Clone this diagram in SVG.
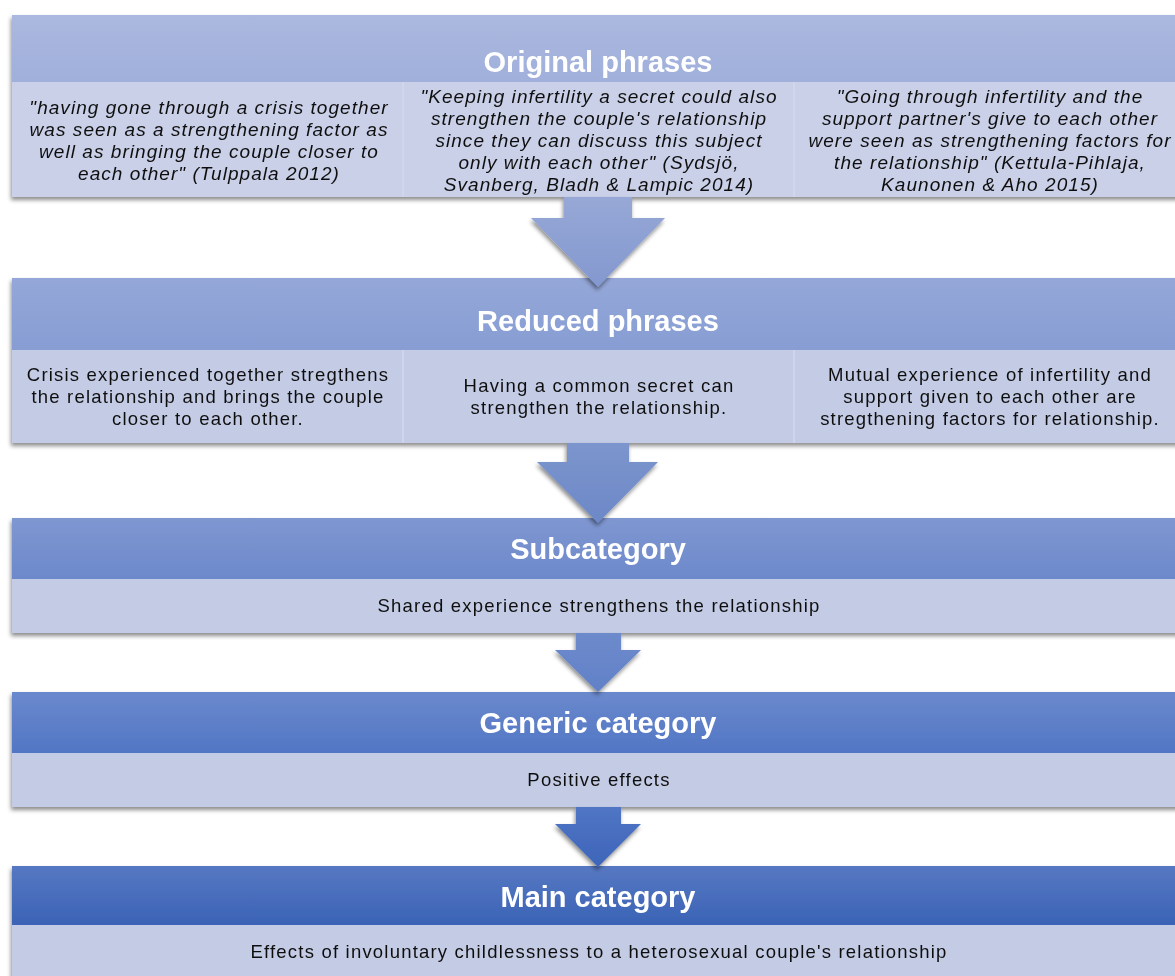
<svg xmlns="http://www.w3.org/2000/svg" width="1175" height="976" viewBox="0 0 1175 976">
<style>
.hd{font-family:"Liberation Sans",Arial,sans-serif;font-weight:bold;font-size:29px;fill:#FFFFFF;text-anchor:middle}
.q{font-family:"Liberation Sans",Arial,sans-serif;font-style:italic;font-size:19px;letter-spacing:1.05px;fill:#111111;text-anchor:middle}
.t{font-family:"Liberation Sans",Arial,sans-serif;font-size:18.5px;letter-spacing:1.2px;fill:#111111;text-anchor:middle}
.body1{fill:#C9D0E8}
.body{fill:#C3CBE5}
.div{stroke:#D3D9EE;stroke-width:1.5}
</style>
<defs>
<filter id="sh" x="-5%" y="-20%" width="110%" height="140%">
<feDropShadow dx="-1" dy="3" stdDeviation="2" flood-color="#000" flood-opacity="0.45"/>
</filter>
<linearGradient id="h1" x1="0" y1="0" x2="0" y2="1"><stop offset="0" stop-color="#ABB8DF"/><stop offset="1" stop-color="#A0B0DB"/></linearGradient>
<linearGradient id="h2" x1="0" y1="0" x2="0" y2="1"><stop offset="0" stop-color="#94A7D8"/><stop offset="1" stop-color="#879DD3"/></linearGradient>
<linearGradient id="h3" x1="0" y1="0" x2="0" y2="1"><stop offset="0" stop-color="#7F97D1"/><stop offset="1" stop-color="#6D89CB"/></linearGradient>
<linearGradient id="h4" x1="0" y1="0" x2="0" y2="1"><stop offset="0" stop-color="#6B89CD"/><stop offset="1" stop-color="#5176C4"/></linearGradient>
<linearGradient id="h5" x1="0" y1="0" x2="0" y2="1"><stop offset="0" stop-color="#5678C2"/><stop offset="1" stop-color="#3B63B6"/></linearGradient>
<linearGradient id="a1" x1="0" y1="0" x2="0" y2="1"><stop offset="0" stop-color="#97A8D6"/><stop offset="1" stop-color="#8398CF"/></linearGradient>
<linearGradient id="a2" x1="0" y1="0" x2="0" y2="1"><stop offset="0" stop-color="#7C95CD"/><stop offset="1" stop-color="#6C88C7"/></linearGradient>
<linearGradient id="a3" x1="0" y1="0" x2="0" y2="1"><stop offset="0" stop-color="#6D8ACB"/><stop offset="1" stop-color="#6181C8"/></linearGradient>
<linearGradient id="a4" x1="0" y1="0" x2="0" y2="1"><stop offset="0" stop-color="#5075C4"/><stop offset="1" stop-color="#3D65B9"/></linearGradient>
</defs>

<g id="original-phrases" filter="url(#sh)">
<rect x="12" y="15" width="1175" height="67" fill="url(#h1)"/>
<rect x="12" y="82" width="1175" height="115" class="body1"/>
<line x1="403" y1="82" x2="403" y2="197" class="div"/>
<line x1="794" y1="82" x2="794" y2="197" class="div"/>
<text class="hd" x="598" y="72">Original phrases</text>
<text class="q" x="209" y="114">"having gone through a crisis together</text>
<text class="q" x="209" y="136">was seen as a strengthening factor as</text>
<text class="q" x="209" y="158">well as bringing the couple closer to</text>
<text class="q" x="209" y="180">each other" (Tulppala 2012)</text>
<text class="q" x="599" y="103">"Keeping infertility a secret could also</text>
<text class="q" x="599" y="125">strengthen the couple's relationship</text>
<text class="q" x="599" y="147">since they can discuss this subject</text>
<text class="q" x="599" y="169">only with each other" (Sydsjö,</text>
<text class="q" x="599" y="191">Svanberg, Bladh &amp; Lampic 2014)</text>
<text class="q" x="990" y="103">"Going through infertility and the</text>
<text class="q" x="990" y="125">support partner's give to each other</text>
<text class="q" x="990" y="147">were seen as strengthening factors for</text>
<text class="q" x="990" y="169">the relationship" (Kettula-Pihlaja,</text>
<text class="q" x="990" y="191">Kaunonen &amp; Aho 2015)</text>
</g>

<g id="reduced-phrases" filter="url(#sh)">
<rect x="12" y="278" width="1175" height="72" fill="url(#h2)"/>
<rect x="12" y="350" width="1175" height="93" class="body"/>
<line x1="403" y1="350" x2="403" y2="443" class="div"/>
<line x1="794" y1="350" x2="794" y2="443" class="div"/>
<text class="hd" x="598" y="331">Reduced phrases</text>
<text class="t" x="208" y="381">Crisis experienced together stregthens</text>
<text class="t" x="208" y="403">the relationship and brings the couple</text>
<text class="t" x="208" y="425">closer to each other.</text>
<text class="t" x="599" y="392">Having a common secret can</text>
<text class="t" x="599" y="414">strengthen the relationship.</text>
<text class="t" x="990" y="381">Mutual experience of infertility and</text>
<text class="t" x="990" y="403">support given to each other are</text>
<text class="t" x="990" y="425">stregthening factors for relationship.</text>
</g>

<g id="subcategory" filter="url(#sh)">
<rect x="12" y="518" width="1175" height="61" fill="url(#h3)"/>
<rect x="12" y="579" width="1175" height="54" class="body"/>
<text class="hd" x="598" y="559">Subcategory</text>
<text class="t" x="599" y="612">Shared experience strengthens the relationship</text>
</g>

<g id="generic-category" filter="url(#sh)">
<rect x="12" y="692" width="1175" height="61" fill="url(#h4)"/>
<rect x="12" y="753" width="1175" height="54" class="body"/>
<text class="hd" x="598" y="733">Generic category</text>
<text class="t" x="599" y="786">Positive effects</text>
</g>

<g id="main-category" filter="url(#sh)">
<rect x="12" y="866" width="1175" height="59" fill="url(#h5)"/>
<rect x="12" y="925" width="1175" height="60" class="body"/>
<text class="hd" x="598" y="907">Main category</text>
<text class="t" x="599" y="958">Effects of involuntary childlessness to a heterosexual couple's relationship</text>
</g>

<g id="connectors" filter="url(#sh)">
<polygon points="564,197 632,197 632,218 665,218 598,287 531,218 564,218" fill="url(#a1)"/>
<polygon points="567,443 629,443 629,462 658,462 598,523 537,462 567,462" fill="url(#a2)"/>
<polygon points="576,633 621,633 621,650 641,650 598,692 555,650 576,650" fill="url(#a3)"/>
<polygon points="576,807 621,807 621,824 641,824 598,867 555,824 576,824" fill="url(#a4)"/>
</g>
</svg>
